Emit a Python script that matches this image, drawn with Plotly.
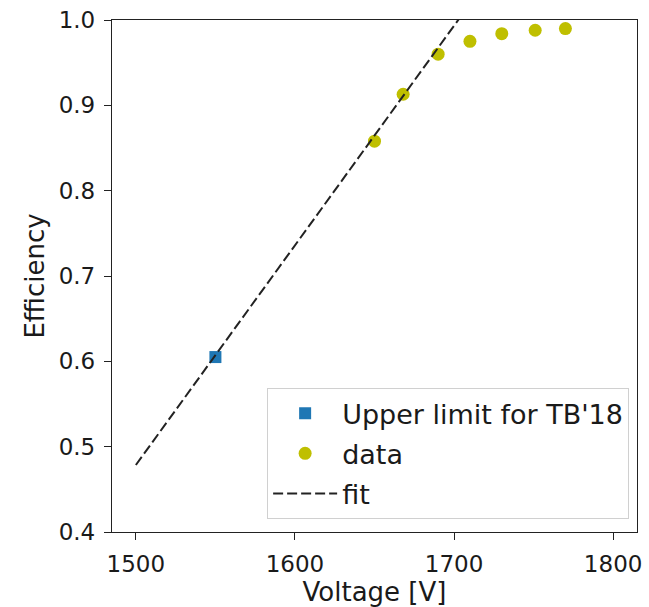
import plotly.graph_objects as go

# Data
limit_voltage = [1550]
limit_eff = [0.605]

data_voltage = [1650, 1668, 1690, 1710, 1730, 1751, 1770]
data_eff = [0.858, 0.913, 0.960, 0.975, 0.984, 0.988, 0.990]

fit_voltage = [1500, 1800]
fit_eff = [0.4785, 1.2507]

x_ticks = [1500, 1600, 1700, 1800]
y_ticks = [0.4, 0.5, 0.6, 0.7, 0.8, 0.9, 1.0]

FONT = "DejaVu Sans"
TXT = "#1a1a1a"

fig = go.Figure()
fig.add_trace(go.Scatter(
    x=limit_voltage, y=limit_eff, mode="markers", name="Upper limit for TB'18",
    legendgroup="a",
    marker=dict(symbol="square", size=12, color="#1f77b4"),
))
fig.add_trace(go.Scatter(
    x=data_voltage, y=data_eff, mode="markers", name="data",
    legendgroup="b",
    marker=dict(symbol="circle", size=13, color="#bfbf00"),
    cliponaxis=False,
))
fig.add_trace(go.Scatter(
    x=fit_voltage, y=fit_eff, mode="lines", name="fit",
    legendgroup="c",
    line=dict(color="#222222", width=2, dash="10px,4px"),
))

axis_common = dict(
    showgrid=False, zeroline=False, automargin=False,
    showline=True, linecolor="#222222", linewidth=1.3, mirror=True,
    ticks="outside", ticklen=7, tickwidth=1.2, tickcolor="#222222",
    tickfont=dict(family=FONT, size=23, color=TXT),
)

fig.update_layout(
    width=649, height=607,
    margin=dict(l=112, r=12, t=20, b=75),
    paper_bgcolor="white", plot_bgcolor="white",
    font=dict(family=FONT, size=22, color=TXT),
    xaxis=dict(range=[1485, 1815], tickvals=x_ticks, ticklabelstandoff=4,
               title=dict(text="Voltage [V]", font=dict(family=FONT, size=26, color=TXT), standoff=7),
               **axis_common),
    yaxis=dict(range=[0.4, 1.0], tickvals=y_ticks, tickformat=".1f", ticklabelstandoff=4,
               title=dict(text="Efficiency", font=dict(family=FONT, size=26, color=TXT), standoff=6),
               **axis_common),
    legend=dict(
        x=0.985, y=0.025, xanchor="right", yanchor="bottom",
        bgcolor="rgba(255,255,255,0.8)", bordercolor="#d0d0d0", borderwidth=1,
        font=dict(family=FONT, size=27, color=TXT),
        itemwidth=64, traceorder="grouped", tracegroupgap=2,
    ),
    showlegend=True,
)

fig.write_html("out.html")
